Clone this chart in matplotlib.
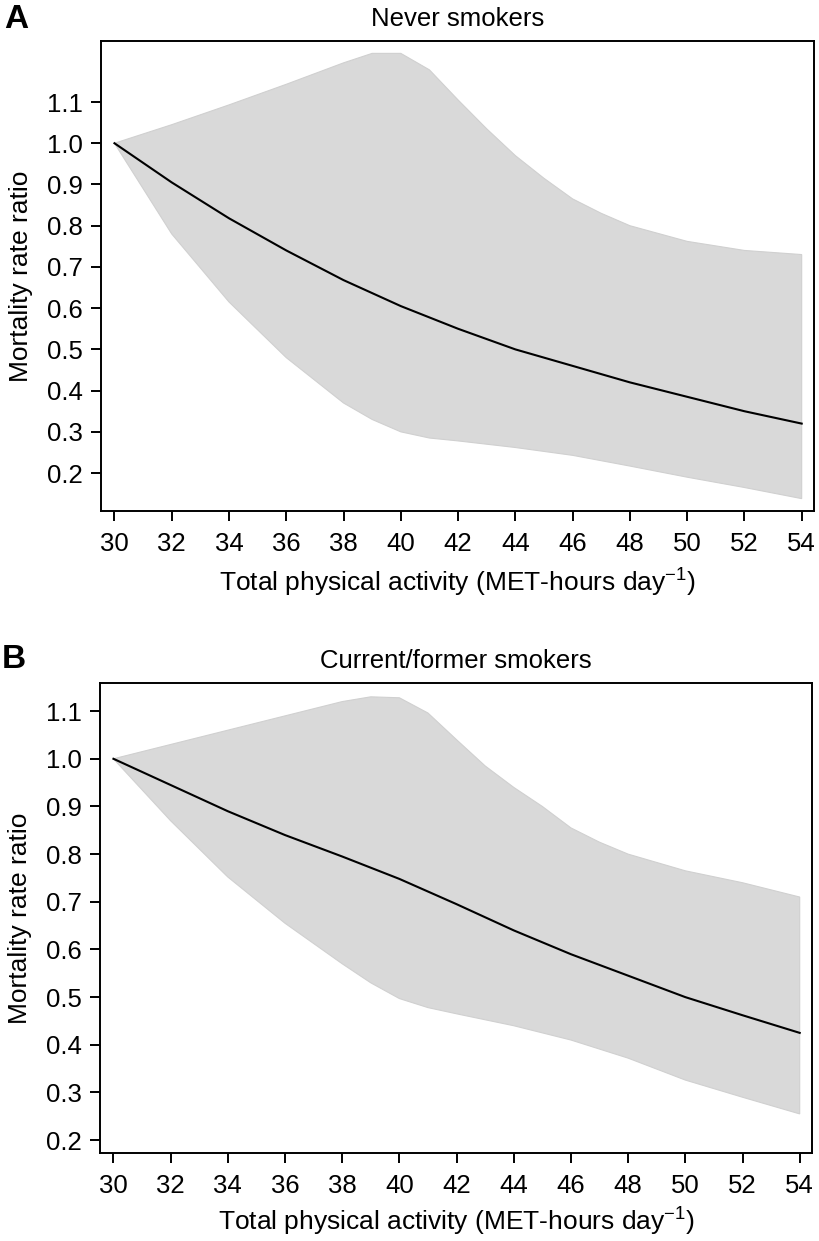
import matplotlib
matplotlib.use("Agg")
import matplotlib.pyplot as plt

plt.rcParams['font.family'] = ['Liberation Sans', 'DejaVu Sans']
plt.rcParams['mathtext.fontset'] = 'custom'
plt.rcParams['mathtext.rm'] = 'Liberation Sans'
plt.rcParams['mathtext.it'] = 'Liberation Sans:italic'
plt.rcParams['mathtext.bf'] = 'Liberation Sans:bold'

# ---- data ----
x_line = [30, 32, 34, 36, 38, 40, 42, 44, 46, 48, 50, 52, 54]
never_rr = [1.0, 0.905, 0.818, 0.74, 0.668, 0.605, 0.55, 0.50, 0.46, 0.42, 0.385, 0.35, 0.32]
former_rr = [1.0, 0.945, 0.89, 0.84, 0.795, 0.748, 0.695, 0.64, 0.59, 0.545, 0.50, 0.462, 0.425]

x_lo = [30, 32, 34, 36, 38, 39, 40, 41, 42, 44, 46, 48, 50, 52, 54]
never_lo = [1.0, 0.78, 0.615, 0.48, 0.37, 0.33, 0.30, 0.285, 0.278, 0.262, 0.243, 0.217, 0.19, 0.165, 0.138]
former_lo = [1.0, 0.87, 0.752, 0.655, 0.57, 0.53, 0.497, 0.478, 0.465, 0.44, 0.41, 0.372, 0.326, 0.29, 0.255]

x_hi = [30, 32, 34, 36, 38, 39, 40, 41, 42, 43, 44, 45, 46, 47, 48, 50, 52, 54]
never_hi = [1.0, 1.045, 1.093, 1.143, 1.195, 1.218, 1.218, 1.178, 1.105, 1.035, 0.97, 0.915, 0.865, 0.83, 0.80, 0.762, 0.74, 0.73]
former_hi = [1.0, 1.03, 1.06, 1.09, 1.12, 1.13, 1.128, 1.096, 1.04, 0.985, 0.94, 0.90, 0.855, 0.825, 0.80, 0.765, 0.74, 0.71]

x_ticks = [30, 32, 34, 36, 38, 40, 42, 44, 46, 48, 50, 52, 54]
y_ticks = [0.2, 0.3, 0.4, 0.5, 0.6, 0.7, 0.8, 0.9, 1.0, 1.1]
titles = ["Never smokers", "Current/former smokers"]
panel_labels = ["A", "B"]
xlabel = r"Total physical activity (MET-hours day$^{-1}$)"
ylabel = "Mortality rate ratio"

W, H = 819, 1241
fig = plt.figure(figsize=(W / 100, H / 100), dpi=100)

# axes positions in pixels (left, top, right, bottom)
boxes = [(101, 41, 814, 511), (100, 683, 812, 1153)]
ylims = [(0.108, 1.248), (0.173, 1.159)]
lines = [never_rr, former_rr]
los = [never_lo, former_lo]
his = [never_hi, former_hi]
label_pos = [(16, 20), (14, 660)]
xlabelpads = [8, 6]

for i in range(2):
    l, t, r, b = boxes[i]
    ax = fig.add_axes([l / W, 1 - b / H, (r - l) / W, (b - t) / H])
    px = list(x_hi) + list(x_lo[::-1])
    py = list(his[i]) + list(los[i][::-1])
    ax.fill(px, py, facecolor='#d9d9d9', edgecolor='#d0d0d0', linewidth=0.8, zorder=1)
    ax.plot(x_line, lines[i], color='black', linewidth=1.5, zorder=3)
    ax.set_xlim(29.53, 54.43)
    ax.set_ylim(*ylims[i])
    ax.set_xticks(x_ticks)
    ax.set_yticks(y_ticks)
    ax.set_xticklabels([str(v) for v in x_ticks])
    ax.set_yticklabels([f"{v:.1f}" for v in y_ticks])
    ax.tick_params(axis='both', direction='out', length=7, width=1.4,
                   labelsize=18.5, colors='black')
    ax.tick_params(axis='x', pad=8)
    ax.tick_params(axis='y', pad=6)
    for s in ax.spines.values():
        s.set_linewidth(1.4)
        s.set_color('black')
    ax.set_title(titles[i], fontsize=18.5, pad=11)
    ax.set_xlabel(xlabel, fontsize=19, labelpad=xlabelpads[i])
    ax.set_ylabel(ylabel, fontsize=19, labelpad=10)
    fig.text(label_pos[i][0] / W, 1 - label_pos[i][1] / H, panel_labels[i],
             fontsize=24, fontweight='bold', ha='center', va='center')

fig.savefig("out.png", dpi=100)
